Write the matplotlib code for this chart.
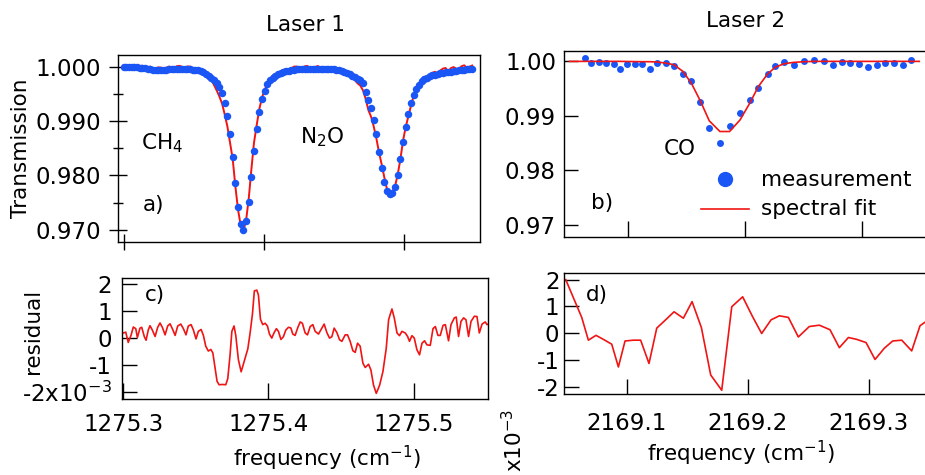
import numpy as np
import matplotlib
matplotlib.use("Agg")
import matplotlib.pyplot as plt
from matplotlib.lines import Line2D

plt.rcParams["font.family"] = ["DejaVu Sans"]
plt.rcParams["mathtext.default"] = "regular"

RED = "#f01414"
BLUE = "#1a55f5"
FS = 15.5    # text
TFS = 16.5   # tick labels

# ---- Laser 1 (CH4 / N2O), transmission ----
freq1 = [1275.2995, 1275.3014, 1275.3033, 1275.3052, 1275.3071, 1275.3090, 1275.3109, 1275.3128,
         1275.3147, 1275.3166, 1275.3185, 1275.3204, 1275.3223, 1275.3242, 1275.3261, 1275.3280,
         1275.3299, 1275.3318, 1275.3337, 1275.3356, 1275.3375, 1275.3394, 1275.3413, 1275.3432,
         1275.3451, 1275.3470, 1275.3489, 1275.3508, 1275.3527, 1275.3546, 1275.3565, 1275.3584,
         1275.3603, 1275.3622, 1275.3641, 1275.3660, 1275.3679, 1275.3698, 1275.3717, 1275.3736,
         1275.3755, 1275.3774, 1275.3793, 1275.3812, 1275.3831, 1275.3850, 1275.3869, 1275.3888,
         1275.3907, 1275.3926, 1275.3945, 1275.3964, 1275.3983, 1275.4002, 1275.4021, 1275.4040,
         1275.4059, 1275.4078, 1275.4097, 1275.4116, 1275.4135, 1275.4154, 1275.4173, 1275.4192,
         1275.4211, 1275.4230, 1275.4249, 1275.4268, 1275.4287, 1275.4306, 1275.4325, 1275.4344,
         1275.4363, 1275.4382, 1275.4401, 1275.4420, 1275.4439, 1275.4458, 1275.4477, 1275.4496,
         1275.4515, 1275.4534, 1275.4553, 1275.4572, 1275.4591, 1275.4610, 1275.4629, 1275.4648,
         1275.4667, 1275.4686, 1275.4705, 1275.4724, 1275.4743, 1275.4762, 1275.4781, 1275.4800,
         1275.4819, 1275.4838, 1275.4857, 1275.4876, 1275.4895, 1275.4914, 1275.4933, 1275.4952,
         1275.4971, 1275.4990, 1275.5009, 1275.5028, 1275.5047, 1275.5066, 1275.5085, 1275.5104,
         1275.5123, 1275.5142, 1275.5161, 1275.5180, 1275.5199, 1275.5218, 1275.5237, 1275.5256,
         1275.5275, 1275.5294, 1275.5313, 1275.5332, 1275.5351, 1275.5370, 1275.5389, 1275.5408,
         1275.5427, 1275.5446, 1275.5465, 1275.5484]

meas1 = [1.00000, 1.00000, 0.99998, 0.99995, 0.99992, 0.99988, 0.99983, 0.99978,
         0.99972, 0.99963, 0.99955, 0.99945, 0.99940, 0.99938, 0.99938, 0.99940,
         0.99945, 0.99950, 0.99955, 0.99960, 0.99963, 0.99964, 0.99963, 0.99961,
         0.99958, 0.99953, 0.99947, 0.99940, 0.99930, 0.99915, 0.99893, 0.99862,
         0.99825, 0.99800, 0.99755, 0.99690, 0.99633, 0.99511, 0.99339, 0.99094,
         0.98758, 0.98336, 0.97858, 0.97417, 0.97110, 0.97000, 0.97153, 0.97502,
         0.97961, 0.98451, 0.98850, 0.99173, 0.99401, 0.99554, 0.99677, 0.99756,
         0.99800, 0.99830, 0.99860, 0.99882, 0.99900, 0.99915, 0.99928, 0.99938,
         0.99946, 0.99952, 0.99957, 0.99960, 0.99962, 0.99963, 0.99963, 0.99963,
         0.99962, 0.99962, 0.99961, 0.99960, 0.99958, 0.99955, 0.99952, 0.99948,
         0.99943, 0.99936, 0.99925, 0.99908, 0.99885, 0.99858, 0.99830, 0.99805,
         0.99775, 0.99745, 0.99690, 0.99541, 0.99388, 0.99236, 0.99021, 0.98758,
         0.98439, 0.98134, 0.97869, 0.97704, 0.97664, 0.97671, 0.97777, 0.98011,
         0.98300, 0.98622, 0.98890, 0.99130, 0.99330, 0.99475, 0.99590, 0.99670,
         0.99730, 0.99772, 0.99800, 0.99822, 0.99840, 0.99855, 0.99867, 0.99878,
         0.99888, 0.99897, 0.99904, 0.99910, 0.99917, 0.99924, 0.99931, 0.99937,
         0.99944, 0.99951, 0.99958, 0.99965]

fit1 = [1.00019, 1.00022, 0.99982, 1.00005, 1.00033, 1.00008, 1.00003, 1.00018,
        0.99975, 0.99973, 1.00001, 0.99970, 0.99955, 0.99986, 0.99983, 0.99960,
        0.99980, 1.00000, 0.99990, 0.99970, 1.00008, 1.00014, 0.99998, 0.99973,
        1.00003, 1.00001, 0.99967, 0.99950, 0.99960, 0.99935, 0.99865, 0.99815,
        0.99783, 0.99760, 0.99660, 0.99560, 0.99450, 0.99320, 0.99120, 0.98900,
        0.98600, 0.98300, 0.97800, 0.97370, 0.97080, 0.96980, 0.97160, 0.97560,
        0.98100, 0.98600, 0.98920, 0.99220, 0.99430, 0.99570, 0.99680, 0.99762,
        0.99835, 0.99840, 0.99865, 0.99910, 0.99940, 0.99953, 0.99940, 0.99963,
        1.00001, 1.00002, 0.99977, 0.99975, 1.00005, 1.00013, 0.99985, 0.99978,
        0.99992, 1.00012, 0.99981, 0.99960, 0.99968, 0.99985, 0.99962, 0.99938,
        0.99938, 0.99948, 0.99925, 0.99878, 0.99835, 0.99836, 0.99800, 0.99745,
        0.99690, 0.99650, 0.99560, 0.99400, 0.99200, 0.99080, 0.98900, 0.98680,
        0.98420, 0.98200, 0.97960, 0.97745, 0.97672, 0.97696, 0.97797, 0.98011,
        0.98288, 0.98631, 0.98885, 0.99085, 0.99280, 0.99460, 0.99570, 0.99643,
        0.99740, 0.99812, 0.99820, 0.99832, 0.99885, 0.99905, 0.99867, 0.99928,
        0.99963, 0.99975, 0.99910, 0.99972, 0.99992, 0.99964, 0.99951, 1.00007,
        1.00024, 0.99981, 0.99998, 1.00020]

# ---- Laser 1 residual (x10^-3) ----
res1_freq = [1275.3000, 1275.3017, 1275.3034, 1275.3053, 1275.3069, 1275.3086, 1275.3097, 1275.3115,
             1275.3127, 1275.3145, 1275.3157, 1275.3172, 1275.3184, 1275.3200, 1275.3219, 1275.3237,
             1275.3253, 1275.3269, 1275.3288, 1275.3306, 1275.3322, 1275.3338, 1275.3357, 1275.3375,
             1275.3396, 1275.3414, 1275.3432, 1275.3448, 1275.3467, 1275.3483, 1275.3501, 1275.3517,
             1275.3536, 1275.3552, 1275.3568, 1275.3586, 1275.3603, 1275.3617, 1275.3632, 1275.3646,
             1275.3660, 1275.3683, 1275.3706, 1275.3720, 1275.3736, 1275.3748, 1275.3763, 1275.3775,
             1275.3793, 1275.3812, 1275.3834, 1275.3858, 1275.3874, 1275.3890, 1275.3903, 1275.3920,
             1275.3931, 1275.3945, 1275.3961, 1275.3977, 1275.3993, 1275.4007, 1275.4023, 1275.4039,
             1275.4055, 1275.4069, 1275.4086, 1275.4103, 1275.4120, 1275.4138, 1275.4154, 1275.4168,
             1275.4184, 1275.4203, 1275.4219, 1275.4234, 1275.4253, 1275.4269, 1275.4288, 1275.4306,
             1275.4322, 1275.4345, 1275.4361, 1275.4384, 1275.4403, 1275.4421, 1275.4437, 1275.4453,
             1275.4472, 1275.4490, 1275.4506, 1275.4529, 1275.4545, 1275.4563, 1275.4582, 1275.4598,
             1275.4614, 1275.4632, 1275.4651, 1275.4667, 1275.4690, 1275.4706, 1275.4724, 1275.4743,
             1275.4766, 1275.4789, 1275.4812, 1275.4828, 1275.4851, 1275.4867, 1275.4886, 1275.4903,
             1275.4920, 1275.4943, 1275.4959, 1275.4972, 1275.4989, 1275.5005, 1275.5023, 1275.5041,
             1275.5058, 1275.5076, 1275.5092, 1275.5115, 1275.5134, 1275.5150, 1275.5168, 1275.5184,
             1275.5203, 1275.5219, 1275.5241, 1275.5258, 1275.5281, 1275.5294, 1275.5310, 1275.5327,
             1275.5345, 1275.5361, 1275.5379, 1275.5396, 1275.5419, 1275.5437, 1275.5453, 1275.5472,
             1275.5494, 1275.5506, 1275.5529]

res1 = [0.19, 0.22, -0.16, 0.10, 0.41, 0.35, 0.02, 0.37,
        0.40, 0.05, -0.08, 0.30, 0.46, 0.30, 0.06, 0.40,
        0.56, 0.40, 0.12, 0.45, 0.53, 0.35, 0.10, 0.45,
        0.52, 0.35, 0.12, 0.45, 0.50, 0.30, -0.03, 0.25,
        0.32, 0.10, -0.30, -0.48, -0.42, -0.55, -1.10, -1.60,
        -1.73, -1.72, -1.73, -1.50, -0.60, 0.25, 0.45, 0.10,
        -0.80, -1.25, -0.85, -0.40, 0.20, 0.90, 1.75, 1.78,
        1.60, 0.70, 0.50, 0.55, 0.45, 0.15, 0.00, 0.20,
        0.35, 0.25, -0.05, 0.05, 0.30, 0.40, 0.38, 0.15,
        0.10, 0.40, 0.60, 0.55, 0.19, 0.12, 0.43, 0.50,
        0.25, 0.15, 0.30, 0.52, 0.20, 0.00, 0.05, 0.37,
        0.20, -0.06, -0.12, 0.12, 0.12, -0.12, -0.47, -0.53,
        -0.19, -0.30, -0.93, -1.09, -0.97, -1.18, -1.74, -2.05,
        -1.75, -1.24, -0.37, 0.68, 1.08, 0.75, 0.19, 0.09,
        0.25, 0.19, 0.06, -0.12, 0.09, 0.00, -0.43, -0.62,
        -0.19, -0.10, -0.25, -0.27, 0.35, 0.43, 0.10, 0.10,
        0.47, 0.50, -0.10, 0.50, 0.75, 0.78, 0.06, 0.62,
        0.75, 0.68, 0.06, 0.62, 0.81, 0.80, 0.19, 0.52,
        0.60, 0.50, 0.55]

# ---- Laser 2 (CO) ----
freq2 = [2169.0496, 2169.0628, 2169.0683, 2169.0746, 2169.0807, 2169.0876, 2169.0931, 2169.0986,
         2169.1055, 2169.1115, 2169.1184, 2169.1248, 2169.1319, 2169.1391, 2169.1468, 2169.1540,
         2169.1617, 2169.1694, 2169.1785, 2169.1868, 2169.1958, 2169.2041, 2169.2115, 2169.2193,
         2169.2261, 2169.2336, 2169.2418, 2169.2509, 2169.2592, 2169.2680, 2169.2757, 2169.2832,
         2169.2901, 2169.2978, 2169.3052, 2169.3129, 2169.3198, 2169.3273, 2169.3355, 2169.3424,
         2169.3493]

meas2 = [np.nan, 1.00061, 0.99969, 0.99988, 0.99969, 0.99951, 0.99859, 0.99951,
         0.99957, 0.99951, 0.99853, 0.99975, 0.99969, 0.99920, 0.99767, 0.99632,
         0.99252, 0.98773, 0.98497, 0.98816, 0.99061, 0.99294, 0.99509, 0.99773,
         0.99914, 0.99982, 0.99939, 1.00000, 1.00018, 1.00006, 0.99926, 0.99982,
         0.99969, 0.99957, 0.99890, 0.99939, 0.99969, 0.99969, 0.99926, 1.00031,
         np.nan]

fit2 = [1.00000, 1.00000, 1.00000, 1.00000, 1.00000, 1.00000, 1.00000, 0.99998,
        0.99996, 0.99994, 0.99994, 0.99988, 0.99969, 0.99939, 0.99816, 0.99601,
        0.99276, 0.98908, 0.98712, 0.98712, 0.98926, 0.99233, 0.99540, 0.99767,
        0.99896, 0.99957, 0.99982, 0.99994, 1.00000, 1.00000, 1.00000, 1.00000,
        1.00000, 1.00000, 1.00000, 1.00000, 1.00000, 1.00000, 1.00000, 1.00000,
        1.00000]

res2 = [2.00, 0.59, -0.26, -0.08, -0.23, -0.41, -1.26, -0.29,
        -0.26, -0.26, -1.13, 0.19, 0.49, 0.80, 0.56, 1.18,
        0.21, -1.56, -2.13, 0.99, 1.36, 0.61, -0.01, 0.50,
        0.65, 0.59, -0.14, 0.25, 0.30, 0.13, -0.54, -0.16,
        -0.23, -0.35, -0.98, -0.56, -0.29, -0.26, -0.66, 0.28,
        0.50]

trans_ticks1 = [0.970, 0.980, 0.990, 1.000]
trans_labels1 = ["0.970", "0.980", "0.990", "1.000"]
trans_ticks2 = [0.97, 0.98, 0.99, 1.00]
trans_labels2 = ["0.97", "0.98", "0.99", "1.00"]
res_ticks = [-2, -1, 0, 1, 2]
res_labels_c = ["-2x10$^{-3}$", "-1", "0", "1", "2"]
res_labels_d = ["-2", "-1", "0", "1", "2"]
freq_ticks1 = [1275.3, 1275.4, 1275.5]
freq_ticks2 = [2169.1, 2169.2, 2169.3]

W, H = 925.0, 475.0


def box(x0, y0, x1, y1):
    return [x0 / W, 1 - y1 / H, (x1 - x0) / W, (y1 - y0) / H]


def pt(x, y):
    return x / W, 1 - y / H


def frame(ax, hide_right=False):
    for s in ax.spines.values():
        s.set_linewidth(1.0)
        s.set_color("black")
    if hide_right:
        ax.spines["right"].set_visible(False)


fig = plt.figure(figsize=(9.25, 4.75), dpi=100)

ax_a = fig.add_axes(box(118.3, 55, 480, 241.7))
ax_c = fig.add_axes(box(121.7, 277.7, 488.3, 399.3))
ax_b = fig.add_axes(box(564.3, 50.7, 925, 236.7))
ax_d = fig.add_axes(box(564.3, 272.7, 925, 394))

# a) laser 1 transmission
ax_a.plot(freq1, fit1, color=RED, lw=1.4, zorder=2)
ax_a.plot(freq1, meas1, "o", color=BLUE, ms=5.4, mew=0, zorder=3)
ax_a.set_xlim(1275.2957, 1275.554)
ax_a.set_ylim(0.9678, 1.00214)
ax_a.set_yticks(trans_ticks1)
ax_a.set_yticklabels(trans_labels1)
ax_a.set_yticks([0.975, 0.985, 0.995], minor=True)
ax_a.set_xticks(freq_ticks1)
ax_a.set_xticklabels([])
ax_a.tick_params(axis="y", which="major", direction="inout", length=12.5, width=1, pad=6, labelsize=TFS)
ax_a.tick_params(axis="y", which="minor", direction="inout", length=7, width=1)
ax_a.tick_params(axis="x", direction="inout", length=11, width=1)
frame(ax_a)

# b) laser 2 transmission
ax_b.plot(freq2, meas2, "o", color=BLUE, ms=5.0, mew=0, zorder=2)
ax_b.plot(freq2, fit2, color=RED, lw=1.2, zorder=3)
ax_b.set_xlim(2169.0452, 2169.3542)
ax_b.set_ylim(0.9678, 1.00196)
ax_b.set_yticks(trans_ticks2)
ax_b.set_yticklabels(trans_labels2)
ax_b.set_xticks(freq_ticks2)
ax_b.set_xticklabels([])
ax_b.tick_params(axis="y", direction="in", length=10, width=1, pad=6, labelsize=TFS)
ax_b.tick_params(axis="x", direction="in", length=11.5, width=1)
frame(ax_b, hide_right=True)

# c) laser 1 residual
ax_c.plot(res1_freq, res1, color=RED, lw=1.2)
ax_c.set_xlim(1275.2989, 1275.5515)
ax_c.set_ylim(-2.27, 2.24)
ax_c.set_yticks(res_ticks)
ax_c.set_yticklabels(res_labels_c)
ax_c.set_xticks(freq_ticks1)
ax_c.set_xticklabels(["1275.3", "1275.4", "1275.5"])
ax_c.tick_params(axis="y", direction="in", length=11, width=1, pad=7, labelsize=TFS)
ax_c.tick_params(axis="x", direction="in", length=11.5, width=1, pad=10, labelsize=TFS)
frame(ax_c)

# d) laser 2 residual
ax_d.plot(freq2, res2, color=RED, lw=1.2)
ax_d.set_xlim(2169.0484, 2169.3465)
ax_d.set_ylim(-2.27, 2.26)
ax_d.set_yticks(res_ticks)
ax_d.set_yticklabels(res_labels_d)
ax_d.set_xticks(freq_ticks2)
ax_d.set_xticklabels(["2169.1", "2169.2", "2169.3"])
ax_d.tick_params(axis="y", direction="in", length=10.5, width=1, pad=3.5, labelsize=TFS)
ax_d.tick_params(axis="x", direction="in", length=10.5, width=1, pad=13, labelsize=TFS)
frame(ax_d, hide_right=True)

# labels and annotations
fig.text(*pt(306, 25), "Laser 1", ha="center", va="center", fontsize=FS)
fig.text(*pt(746, 21), "Laser 2", ha="center", va="center", fontsize=FS)
fig.text(*pt(21, 148), "Transmission", ha="center", va="center", rotation=90, fontsize=FS)
fig.text(*pt(33, 331), "residual", ha="center", va="center", rotation=90, fontsize=FS)
fig.text(*pt(327, 458), "frequency (cm$^{-1}$)", ha="center", va="center", fontsize=FS)
fig.text(*pt(741, 453), "frequency (cm$^{-1}$)", ha="center", va="center", fontsize=FS)
fig.text(*pt(514, 440), "x10$^{-3}$", ha="center", va="center", rotation=90, fontsize=FS)

fig.text(*pt(141, 143), "CH$_4$", ha="left", va="center", fontsize=FS)
fig.text(*pt(300, 137), "N$_2$O", ha="left", va="center", fontsize=FS)
fig.text(*pt(143, 205), "a)", ha="left", va="center", fontsize=FS)
fig.text(*pt(664, 149), "CO", ha="left", va="center", fontsize=FS)
fig.text(*pt(591, 203), "b)", ha="left", va="center", fontsize=FS)
fig.text(*pt(145, 295), "c)", ha="left", va="center", fontsize=FS)
fig.text(*pt(586, 295), "d)", ha="left", va="center", fontsize=FS)

# legend drawn by hand
fig.add_artist(Line2D([725 / W], [1 - 179.3 / H], marker="o", ms=11, color=BLUE, mew=0, ls="none"))
fig.add_artist(Line2D([701 / W, 749 / W], [1 - 209 / H, 1 - 209 / H], color=RED, lw=1.2))
fig.text(*pt(761, 180), "measurement", ha="left", va="center", fontsize=FS)
fig.text(*pt(761, 209), "spectral fit", ha="left", va="center", fontsize=FS)

fig.savefig("out.png", dpi=100)
